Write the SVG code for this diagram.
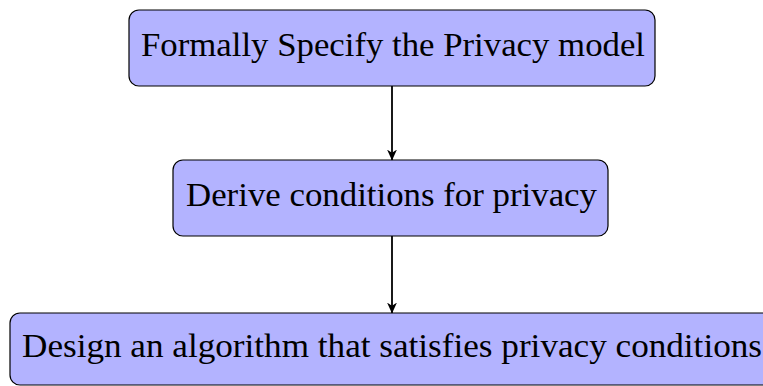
<svg xmlns="http://www.w3.org/2000/svg" width="763" height="386" viewBox="0 0 763 386">
<style>
.box{fill:#b3b3ff;stroke:#000;stroke-width:1.2}
.t{font-family:"Liberation Serif","DejaVu Serif",serif;font-size:33px;fill:#000;text-anchor:middle}
.c{stroke:#000;stroke-width:1.8;fill:none;marker-end:url(#ah)}
</style>
<defs>
<marker id="ah" viewBox="0 0 10 10" refX="9.5" refY="5" markerWidth="11" markerHeight="11" markerUnits="userSpaceOnUse" orient="auto">
<path d="M0,0.5 L10,5 L0,9.5 L3,5 Z" fill="#000"/>
</marker>
</defs>
<g id="n1">
<rect class="box" x="129" y="10" width="526" height="76" rx="10"/>
<text class="t" x="393" y="56" textLength="504" lengthAdjust="spacingAndGlyphs">Formally Specify the Privacy model</text>
</g>
<g id="n2">
<rect class="box" x="173" y="160" width="435" height="76" rx="10"/>
<text class="t" x="391.5" y="206" textLength="411" lengthAdjust="spacingAndGlyphs">Derive conditions for privacy</text>
</g>
<g id="n3">
<rect class="box" x="10" y="313" width="770" height="72" rx="10"/>
<text class="t" x="392" y="357" textLength="740" lengthAdjust="spacingAndGlyphs">Design an algorithm that satisfies privacy conditions</text>
</g>
<g id="connectors">
<line class="c" x1="392" y1="86" x2="392" y2="160"/>
<line class="c" x1="392" y1="236" x2="392" y2="313"/>
</g>
</svg>
